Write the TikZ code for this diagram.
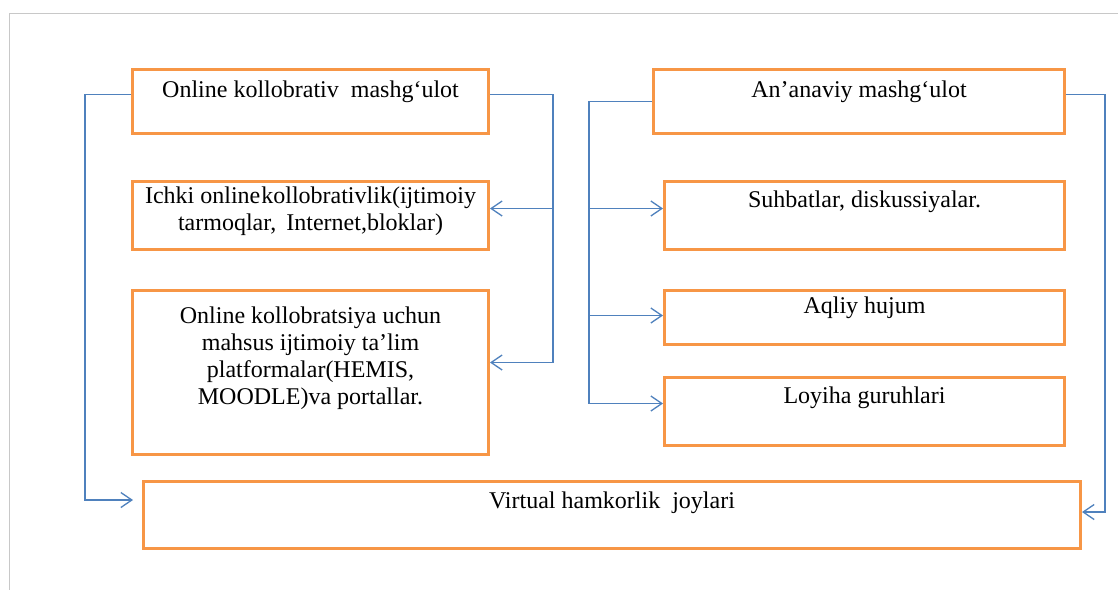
\documentclass[tikz,border=0pt]{standalone}
\usepackage{fontspec}
\setmainfont{Liberation Serif}
\usetikzlibrary{arrows.meta}
\definecolor{orangeC}{HTML}{F79646}
\definecolor{blueC}{HTML}{4F81BD}
\definecolor{frameC}{HTML}{C8C8C8}
\tikzset{
  box/.style={draw=orangeC, line width=3pt, inner sep=0pt, anchor=north west},
  txt/.style={font={\fontsize{24}{27}\selectfont}, align=center, inner sep=0pt},
  conn/.style={draw=blueC, line width=1.3pt},
  arr/.style={conn, -{Straight Barb[length=11pt,width=15pt,line width=1.3pt]}},
}
\begin{document}
\begin{tikzpicture}[x=1pt,y=-1pt]
\useasboundingbox (0,0) rectangle (1118,590);
\fill[white] (0,0) rectangle (1118,590);
\draw[frameC, line width=1pt] (1118,13) -- (9,13) -- (9,590);

% left column
\node[box, minimum width=356pt, minimum height=64pt] (b1) at (131,68) {};
\node[box, minimum width=356pt, minimum height=68pt] (b2) at (131,180) {};
\node[box, minimum width=356pt, minimum height=164pt] (b3) at (131,289) {};
% right column
\node[box, minimum width=411pt, minimum height=64pt] (r1) at (652,68) {};
\node[box, minimum width=400pt, minimum height=68pt] (r2) at (663,180) {};
\node[box, minimum width=400pt, minimum height=54pt] (r3) at (663,289) {};
\node[box, minimum width=400pt, minimum height=68pt] (r4) at (663,376) {};
% bottom
\node[box, minimum width=937pt, minimum height=67pt] (v) at (142,480) {};

% texts
\node[txt, anchor=base] (t1) at ([yshift=-29pt]b1.north) {Online kollobrativ\hspace{6pt} mashg‘ulot};
\node[txt, anchor=north] (t2) at ([yshift=-7pt]b2.north) {Ichki online\hspace{1pt}kollobrativlik(ijtimoiy\\tarmoqlar,\hspace{4pt} Internet,bloklar)};
\node[txt, anchor=north] (t3) at ([yshift=-18pt]b3.north) {Online kollobratsiya uchun\\mahsus ijtimoiy ta'lim\\platformalar(HEMIS,\\MOODLE)va portallar.};
\node[txt, anchor=base] (s1) at ([yshift=-29pt]r1.north) {An’anaviy mashg‘ulot};
\node[txt, anchor=base] (s2) at ([yshift=-27pt]r2.north) {Suhbatlar, diskussiyalar.};
\node[txt, anchor=base] (s3) at ([yshift=-24pt]r3.north) {Aqliy hujum};
\node[txt, anchor=base] (s4) at ([yshift=-27pt]r4.north) {Loyiha guruhlari};
\node[txt, anchor=base] (tv) at ([yshift=-28pt]v.north) {Virtual hamkorlik\hspace{6pt} joylari};

% connectors left
\draw[arr] ([yshift=7pt]b1.west) -- ++(-46,0) |- ([xshift=-9pt,yshift=15pt]v.west);
\draw[arr] ([yshift=7pt]b1.east) -- ++(63,0) |- ([yshift=10pt]b3.east);
\draw[arr] ([yshift=7pt]b1.east) ++(63,0) |- ([yshift=7pt]b2.east);

% connectors right
\draw[arr] (r1.west) -- ++(-63,0) |- ([yshift=8pt]r4.west);
\draw[arr] (r1.west) ++(-63,0) |- ([yshift=7pt]r2.west);
\draw[arr] (r1.west) ++(-63,0) |- ([yshift=2pt]r3.west);
\draw[arr] ([yshift=7pt]r1.east) -- ++(39,0) |- ([yshift=3pt]v.east);
\end{tikzpicture}
\end{document}
